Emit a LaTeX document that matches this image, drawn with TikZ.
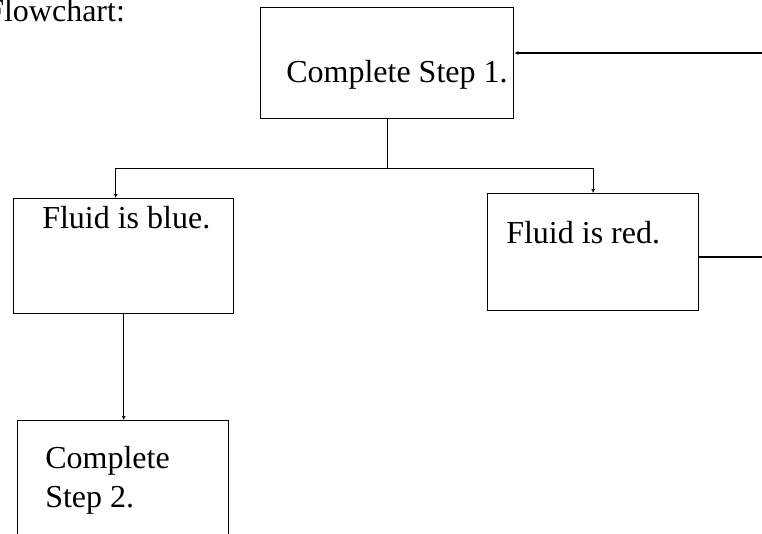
\documentclass[tikz,border=0pt]{standalone}
\usepackage{fontspec}
\setmainfont{Liberation Serif}
\usetikzlibrary{arrows.meta}

\tikzset{
  box/.style 2 args={draw,line width=1pt,inner sep=0pt,anchor=north west,
    minimum width=#1*0.75pt,minimum height=#2*0.75pt},
  txt/.style={inner sep=0pt,anchor=base west,font=\fontsize{24}{29}\selectfont},
  link/.style={line width=0.8pt},
  >={Latex[length=3pt,width=3pt]}
}

\begin{document}
\begin{tikzpicture}[x=0.75pt,y=-0.75pt]
          %\draw[very thin,lightgray] (0,0) grid[step=50] (762,533);
          \clip (0,0) rectangle (762,533);
          \node[txt] (title) at (-14,21) {Flowchart:};
          % boxes
          \node[box={253}{111}] (step1) at (260,7) {};
          \node[box={220}{115}] (blue) at (13,198) {};
          \node[box={211}{117}] (red) at (487,193) {};
          \node[box={211}{140}] (step2) at (17,420) {};
          \node[txt] (step1txt) at (286,82) {Complete Step 1.};
          \node[txt] (bluetxt) at (42,228) {Fluid is blue.};
          \node[txt] (redtxt) at (506,243) {Fluid is red.};
          \node[txt,anchor=north west,align=left] (step2txt) at (45,446)
            {Complete\\Step 2.};
          % connectors
          \coordinate (inR) at (762,53);
          \coordinate (outR) at (762,257);
          \draw[link,->] (inR) -- (step1.east |- inR);
          \draw[link] (step1.south) -- ++(0,49) coordinate (split);
          \draw[link,->] (split) -| ([xshift=-6pt]blue.north);
          \draw[link,->] (split) -| (red.north);
          \draw[link,->] (blue.south) -- (blue.south |- step2.north);
          \draw[link] (red.east |- outR) -- (outR);
\end{tikzpicture}
\end{document}
